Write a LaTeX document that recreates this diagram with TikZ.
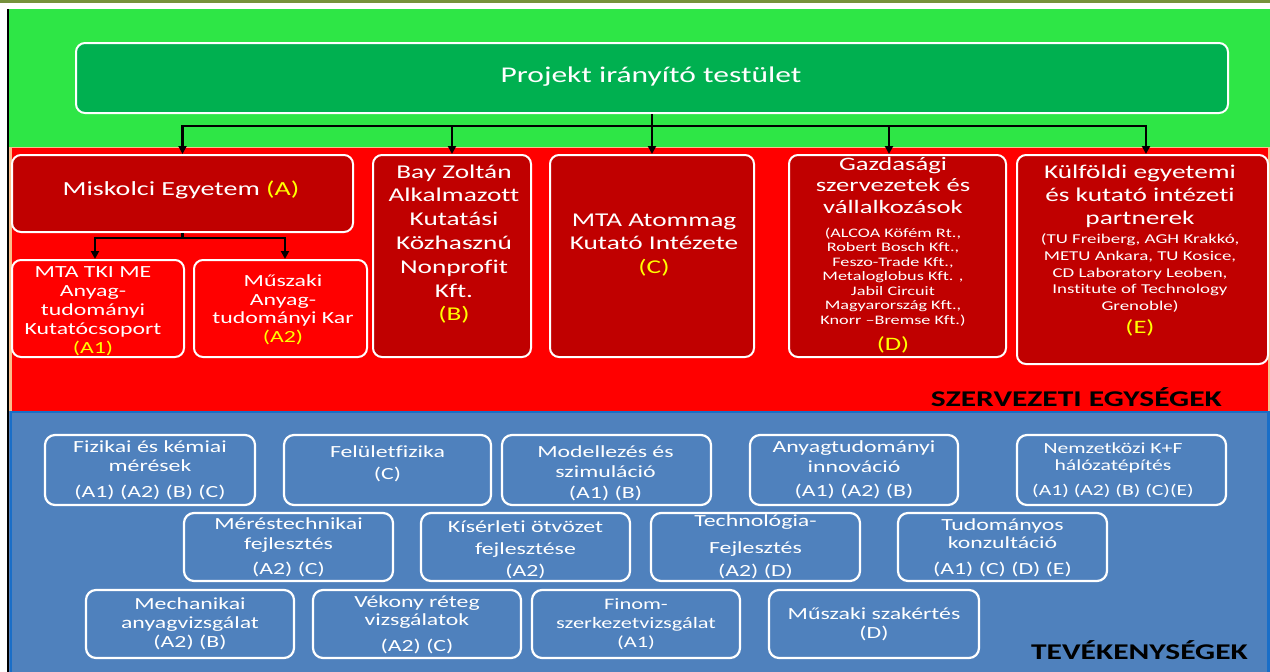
\documentclass[tikz,border=0pt]{standalone}
\usepackage{fontspec}
\setmainfont{Carlito}[FakeStretch=1.4, Ligatures=NoCommon]
\usetikzlibrary{arrows.meta}
\definecolor{bggreen}{RGB}{46,230,70}
\definecolor{boxgreen}{RGB}{0,176,80}
\definecolor{bgred}{RGB}{255,0,0}
\definecolor{darkred}{RGB}{192,0,0}
\definecolor{bgblue}{RGB}{79,129,189}
\definecolor{edgeblue}{RGB}{25,110,200}
\definecolor{olivetop}{RGB}{118,146,60}
\definecolor{peach}{RGB}{250,190,140}
\definecolor{yel}{RGB}{255,255,0}
\begin{document}
\begin{tikzpicture}[x=1pt,y=-1pt,
  box/.style={draw=white, line width=2pt, rounded corners=9pt, inner sep=0pt},
  bbox/.style={box, fill=bgblue, line width=2.2pt, rounded corners=10pt},
  txt/.style={text=white, align=center, inner sep=0pt},
  redbig/.style={txt, font=\fontsize{19.5}{23.8}\selectfont},
  bluetxt/.style={txt, font=\fontsize{17}{19.5}\selectfont},
  lbl/.style={text=black, inner sep=0pt, font=\bfseries\fontsize{22.5}{26}\selectfont},
  conn/.style={line width=2.2pt, black},
  arr/.style={conn, -{Triangle[length=8pt,width=8pt]}}
]
\useasboundingbox (0,0) rectangle (1270,672);
% backgrounds
\fill[white] (0,0) rectangle (1270,672);
\fill[olivetop] (0,0) rectangle (1270,2.5);
\fill[bggreen] (8,9) rectangle (1270,148);
\fill[bgred] (8,148) rectangle (1270,411);
\draw[peach, line width=1.5pt] (9,147.5) -- (1270,147.5);
\draw[peach, line width=2.5pt] (10.5,148) -- (10.5,411);
\draw[peach, line width=2pt] (1268.5,148) -- (1268.5,411);
\fill[bgblue] (8,411) rectangle (1270,672);
\draw[edgeblue, line width=2.5pt] (11,672) -- (11,412) -- (1268.5,412) -- (1268.5,672);
\draw[black, line width=2pt] (8.3,9) -- (8.3,672);

% top box
\node[box, fill=boxgreen, minimum width=1152pt, minimum height=70pt] (top) at (652,78) {};
\node[txt, font=\fontsize{22.5}{26}\selectfont] (topT) at (651,77) {Projekt irányító testület};

% red boxes
\node[box, fill=darkred, minimum width=341pt, minimum height=77pt] (misk) at (182.5,193.5) {};
\node[box, fill=bgred, minimum width=172pt, minimum height=97pt] (mta) at (98,308.5) {};
\node[box, fill=bgred, minimum width=173pt, minimum height=97pt] (musz) at (280.5,308.5) {};
\node[box, fill=darkred, minimum width=158pt, minimum height=202pt] (bay) at (452,256) {};
\node[box, fill=darkred, minimum width=204pt, minimum height=202pt] (atom) at (652,256) {};
\node[box, fill=darkred, minimum width=217pt, minimum height=202pt] (gazd) at (897.5,256) {};
\node[box, fill=darkred, minimum width=251pt, minimum height=209pt] (kulf) at (1142.5,259.5) {};

% connectors
\coordinate (bus) at (652,126);
\coordinate (sub) at (182.5,238);
\draw[conn] (top.south) -- (bus);
\draw[conn] (183,126) -- (1146,126);
\draw[arr] (bus) -- (atom.north);
\draw[arr] (bus) -| (misk.north);
\draw[arr] (bus) -| (bay.north);
\draw[arr] (bus) -| ([xshift=-8.5pt]gazd.north);
\draw[arr] (bus) -| ([xshift=3.5pt]kulf.north);
\draw[conn] (misk.south) -- (sub);
\draw[arr] (sub) -| ([xshift=-3pt]mta.north);
\draw[arr] (sub) -| ([xshift=4.5pt]musz.north);

% red texts
\node[txt, font=\fontsize{20}{24}\selectfont] (miskT) at (181,190) {Miskolci Egyetem \textcolor{yel}{(A)}};
\node[txt, font=\fontsize{17}{19}\selectfont] (mtaT) at (93,311) {MTA TKI ME\\Anyag-\\tudományi\\Kutatócsoport\\\textcolor{yel}{(A1)}};
\node[txt, font=\fontsize{17}{18.5}\selectfont] (muszT) at (283,310) {Műszaki\\Anyag-\\tudományi Kar\\\textcolor{yel}{(A2)}};
\node[redbig] (bayT) at (454,244) {Bay Zoltán\\Alkalmazott\\Kutatási\\Közhasznú\\Nonprofit\\Kft.\\\textcolor{yel}{(B)}};
\node[redbig] (atomT) at (654,245) {MTA Atommag\\Kutató Intézete\\\textcolor{yel}{(C)}};
\node[txt, font=\fontsize{19}{21.5}\selectfont] (gazdH) at (893,185) {Gazdasági\\szervezetek és\\vállalkozások};
\node[txt, font=\fontsize{13}{14.5}\selectfont] (gazdS) at (893,277) {(ALCOA Köfém Rt.,\\Robert Bosch Kft.,\\Feszo-Trade Kft.,\\Metaloglobus Kft. ,\\Jabil Circuit\\Magyarország Kft.,\\Knorr –Bremse Kft.)};
\node[txt, font=\fontsize{19}{22}\selectfont, text=yel] (gazdD) at (893,345) {(D)};
\node[txt, font=\fontsize{19.5}{23}\selectfont] (kulfH) at (1140,196) {Külföldi egyetemi\\és kutató intézeti\\partnerek};
\node[txt, font=\fontsize{13.5}{16.7}\selectfont] (kulfS) at (1140,273) {(TU Freiberg, AGH Krakkó,\\METU Ankara, TU Kosice,\\CD Laboratory Leoben,\\Institute of Technology\\Grenoble)};
\node[txt, font=\fontsize{19}{22}\selectfont, text=yel] (kulfE) at (1140,328) {(E)};
\node[lbl, anchor=east] (szerv) at (1222,397) {SZERVEZETI EGYSÉGEK};

% blue boxes
\node[bbox, minimum width=210pt, minimum height=70pt] (fiz) at (150,470) {};
\node[bbox, minimum width=207pt, minimum height=70pt] (fel) at (387.5,470) {};
\node[bbox, minimum width=209pt, minimum height=70pt] (mod) at (606.5,470) {};
\node[bbox, minimum width=208pt, minimum height=70pt] (any) at (854,470) {};
\node[bbox, minimum width=209pt, minimum height=70pt] (nem) at (1121.5,470) {};
\node[bbox, minimum width=209pt, minimum height=68pt] (mer) at (288.5,547) {};
\node[bbox, minimum width=209pt, minimum height=68pt] (kis) at (525.5,547) {};
\node[bbox, minimum width=209pt, minimum height=68pt] (tech) at (755.5,547) {};
\node[bbox, minimum width=209pt, minimum height=68pt] (tud) at (1002.5,547) {};
\node[bbox, minimum width=208pt, minimum height=68pt] (mech) at (190,624) {};
\node[bbox, minimum width=208pt, minimum height=68pt] (vek) at (417,624) {};
\node[bbox, minimum width=208pt, minimum height=68pt] (fin) at (636,624) {};
\node[bbox, minimum width=210pt, minimum height=68pt] (msz) at (874,624) {};

% blue texts
\node[bluetxt, font=\fontsize{17}{19}\selectfont] (fizT) at (150,470) {Fizikai és kémiai\\mérések\\[7pt](A1) (A2) (B) (C)};
\node[bluetxt, font=\fontsize{17}{22}\selectfont] (felT) at (387.5,464) {Felületfizika\\(C)};
\node[bluetxt, font=\fontsize{17}{20.5}\selectfont] (modT) at (605.5,473) {Modellezés és\\szimuláció\\(A1) (B)};
\node[bluetxt, font=\fontsize{17}{20}\selectfont] (anyT) at (854,469.5) {Anyagtudományi\\innováció\\[4pt](A1) (A2) (B)};
\node[bluetxt, font=\fontsize{15.5}{17}\selectfont] (nemT) at (1113,470.5) {Nemzetközi K+F\\hálózatépítés\\[8pt](A1) (A2) (B) (C)(E)};
\node[bluetxt, font=\fontsize{17}{20}\selectfont] (merT) at (288.5,547) {Méréstechnikai\\fejlesztés\\[5pt](A2) (C)};
\node[bluetxt, font=\fontsize{17}{22}\selectfont] (kisT) at (525.5,549.5) {Kísérleti ötvözet\\fejlesztése\\(A2)};
\node[bluetxt, font=\fontsize{17}{23}\selectfont] (techT) at (755.5,546.5) {Technológia-\\[4pt]Fejlesztés\\(A2) (D)};
\node[bluetxt, font=\fontsize{17}{18}\selectfont] (tudT) at (1002.5,547.5) {Tudományos\\konzultáció\\[8pt](A1) (C) (D) (E)};
\node[bluetxt, font=\fontsize{17}{19}\selectfont] (mechT) at (190,623.5) {Mechanikai\\anyagvizsgálat\\(A2) (B)};
\node[bluetxt, font=\fontsize{17}{18}\selectfont] (vekT) at (417,624.5) {Vékony réteg\\vizsgálatok\\[8pt](A2) (C)};
\node[bluetxt, font=\fontsize{16}{19}\selectfont] (finT) at (636,624.5) {Finom-\\szerkezetvizsgálat\\(A1)};
\node[bluetxt, font=\fontsize{17}{19}\selectfont] (mszT) at (874,624) {Műszaki szakértés\\(D)};
\node[lbl, anchor=east] (tev) at (1248,650) {TEVÉKENYSÉGEK};
\end{tikzpicture}
\end{document}
